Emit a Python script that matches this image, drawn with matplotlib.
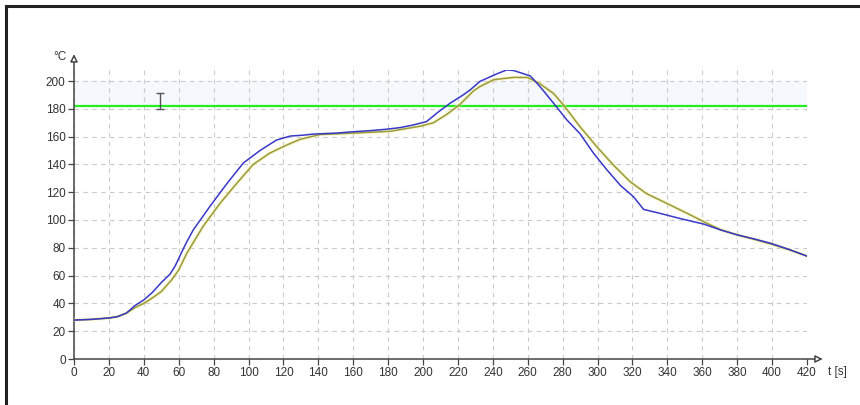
import numpy as np
import matplotlib.pyplot as plt
from matplotlib.lines import Line2D

# Messkurve (blau) und Sollprofil (oliv)
t_ist = [0, 10, 20, 25, 30, 35, 40, 45, 50, 55, 58, 61, 64.5, 68.4, 78, 87.5, 97, 106.6, 116,
         124, 131, 137, 150, 160, 170, 179, 187, 194.5, 202, 208, 215.5, 223, 227, 232.6,
         236.7, 242, 248, 252, 255.7, 261.5, 267, 274.8, 282.4, 290, 297.7, 305.4, 313,
         320.6, 326.4, 336, 347.5, 361, 370.6, 380, 390, 399, 410, 420]
temp_ist = [28, 28.5, 29.5, 30.5, 33, 38.5, 42.5, 48, 55, 61, 67, 75, 84, 93, 110, 126, 141,
            150, 157.5, 160.4, 161, 161.8, 162.5, 163.5, 164.3, 165.3, 166.5, 168.4, 170.8,
            177, 184, 190, 193.6, 199.7, 202, 205, 208, 207.5, 206, 203.6, 196, 184, 172,
            162, 148, 136, 125, 116.7, 107.6, 104.7, 101, 97, 92.8, 89.3, 86.3, 83.3, 78.7, 74]

t_soll = [0, 10, 20, 25, 30, 35, 40, 45, 50, 56, 60, 64.6, 74, 83.7, 93, 102.7, 112, 122,
          129.5, 141, 160, 181, 198.5, 206, 213.6, 221, 229, 232.6, 240.6, 252, 260, 267,
          274.8, 280.5, 290, 299.6, 309, 318.6, 328, 339.6, 351, 362.6, 370.6, 380, 390,
          400, 410, 420]
temp_soll = [28, 28.5, 29.5, 30.5, 33, 37, 40, 44, 48.5, 57, 64, 76, 95.5, 112, 126, 140,
             148, 154, 158, 161.5, 162.5, 163.8, 167.5, 170, 176, 183, 193, 196, 201, 202.6,
             202.5, 198, 191, 182.7, 167, 152.7, 139.6, 127.6, 119, 112, 105, 97.7, 93, 89.3,
             86, 82.5, 78.5, 74]

grenzwert = 182
x_ticks = list(range(0, 421, 20))
y_ticks = list(range(0, 201, 20))
cursor_t, cursor_v, cursor_h = 49, 185.3, 5.8

plt.rcParams['font.family'] = ['Liberation Sans', 'DejaVu Sans']

fig = plt.figure(figsize=(8.6, 4.05), dpi=100)
ax = fig.add_axes([74 / 860, 46 / 405, 733 / 860, 289 / 405])

ax.set_xlim(0, 420)
ax.set_ylim(0, 289 / 1.39)

for s in ax.spines.values():
    s.set_visible(False)

# Raster
ax.set_xticks(x_ticks)
ax.set_yticks(y_ticks)
ax.grid(True, color='#cacaca', linestyle=(0, (4, 4)), linewidth=0.8)
ax.tick_params(axis='both', direction='out', length=4, width=0.9, color='#444444',
               labelsize=8.5, labelcolor='#333333', pad=2)

# heller Streifen ueber der Grenzlinie
ax.axhspan(grenzwert, 200, color='#f5f8fc', zorder=0.5)
ax.axhline(grenzwert, color='#22ee22', linewidth=1.6, zorder=3)

ax.plot(t_soll, temp_soll, color='#f4f0a0', linewidth=2.6, alpha=0.5, zorder=3.5)
ax.plot(t_soll, temp_soll, color='#9a9a3c', linewidth=1.1, zorder=4)
ax.plot(t_ist, temp_ist, color='#3838c8', linewidth=1.1, zorder=5)

ax.errorbar([cursor_t], [cursor_v], yerr=[[cursor_h], [cursor_h]], fmt='none',
            ecolor='#555555', elinewidth=1.0, capsize=3, capthick=1.0, zorder=6)

# Achsen mit Pfeilen
pfeil = dict(arrowstyle='-|>', fc='white', ec='#444444', lw=1.1, mutation_scale=11,
             shrinkA=0, shrinkB=0)
ax.annotate('', xy=(1.0215, 0), xytext=(0, 0), xycoords='axes fraction',
            textcoords='axes fraction', arrowprops=pfeil, annotation_clip=False)
ax.annotate('', xy=(0, 1.055), xytext=(0, 0), xycoords='axes fraction',
            textcoords='axes fraction', arrowprops=pfeil, annotation_clip=False)

ax.text(-0.01, 1.045, '°C', transform=ax.transAxes, ha='right', va='center',
        fontsize=8.5, color='#333333')
ax.text(1.028, -0.045, 't [s]', transform=ax.transAxes, ha='left', va='center',
        fontsize=8.5, color='#333333')

# Rahmen oben und links
fig.add_artist(Line2D([6 / 860, 1], [399 / 405, 399 / 405], color='#222222',
                      linewidth=2.2, transform=fig.transFigure))
fig.add_artist(Line2D([6 / 860, 6 / 860], [0, 399 / 405], color='#222222',
                      linewidth=2.2, transform=fig.transFigure))

fig.savefig('out.png', dpi=100)
